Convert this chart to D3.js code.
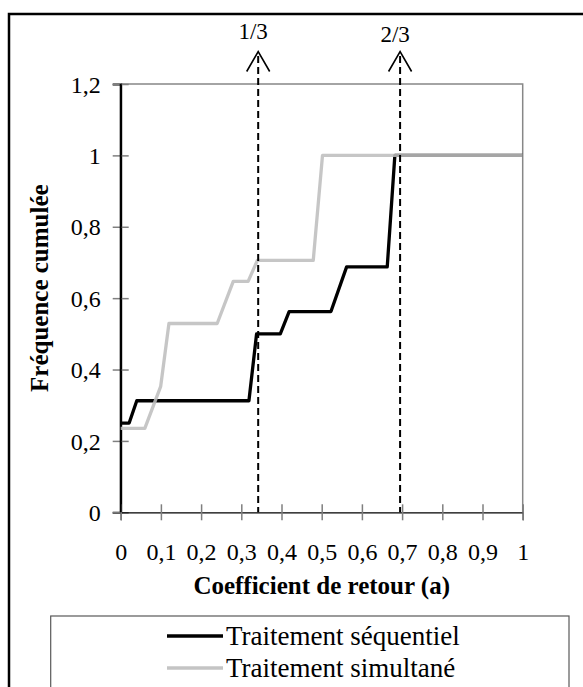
<!DOCTYPE html>
<html><head><meta charset="utf-8">
<script src="https://cdn.jsdelivr.net/npm/d3@7"></script>
<style>
body{margin:0;background:#fff}
svg{display:block}
text{font-family:"Liberation Serif","Times New Roman",serif;fill:#000}
</style>
</head><body><svg id="c" width="583" height="687"></svg>
<script>
// ---- data ----
const seqX = [0, 0.021, 0.040, 0.319, 0.338, 0.397, 0.419, 0.523, 0.562, 0.663, 0.682, 1];
const seqY = [0.25, 0.25, 0.3125, 0.3125, 0.5, 0.5, 0.5625, 0.5625, 0.6875, 0.6875, 1, 1];
const simX = [0, 0.060, 0.0995, 0.120, 0.240, 0.280, 0.317, 0.340, 0.479, 0.502, 1];
const simY = [0.235, 0.235, 0.353, 0.529, 0.529, 0.647, 0.647, 0.706, 0.706, 1, 1];
const xTickValues = [0, 0.1, 0.2, 0.3, 0.4, 0.5, 0.6, 0.7, 0.8, 0.9, 1];
const xTickLabels = ["0", "0,1", "0,2", "0,3", "0,4", "0,5", "0,6", "0,7", "0,8", "0,9", "1"];
const yTickValues = [0, 0.2, 0.4, 0.6, 0.8, 1, 1.2];
const yTickLabels = ["0", "0,2", "0,4", "0,6", "0,8", "1", "1,2"];
const markerX = [0.342, 0.695];
const markerLabels = ["1/3", "2/3"];
const seriesNames = ["Traitement séquentiel", "Traitement simultané"];
const xTitle = "Coefficient de retour (a)";
const yTitle = "Fréquence cumulée";

// ---- layout ----
const svg = d3.select("#c");
const L = 120.7, R = 522.7, T = 84, B = 512.3;
const x = d3.scaleLinear().domain([0, 1]).range([L, R]);
const y = d3.scaleLinear().domain([0, 1.2]).range([B, T]);
const serif = '"Liberation Serif","Times New Roman",serif';

// outer frame
svg.append("rect").attr("x", 9).attr("y", 14).attr("width", 620).attr("height", 720)
  .attr("fill", "none").attr("stroke", "#000").attr("stroke-width", 2.5);

// plot border (top & right)
svg.append("path").attr("d", `M${L},${T}H${R}V${B}`)
  .attr("fill", "none").attr("stroke", "#878787").attr("stroke-width", 1.5);

// y axis
const yAxis = svg.append("g").attr("transform", `translate(${L},0)`)
  .call(d3.axisLeft(y).tickValues(yTickValues).tickSize(8)
    .tickFormat((d, i) => yTickLabels[i]));
yAxis.attr("font-family", serif);
yAxis.select(".domain").attr("stroke", "#000").attr("stroke-width", 2);
yAxis.selectAll(".tick line").attr("x1", 8).attr("x2", -8).attr("stroke", "#7f7f7f").attr("stroke-width", 1.5);
yAxis.selectAll(".tick text").attr("x", -20).attr("dy", "0.34em")
  .style("font-family", serif).style("font-size", "24px").attr("fill", "#000");

// x axis
const xAxis = svg.append("g").attr("transform", `translate(0,${B})`)
  .call(d3.axisBottom(x).tickValues(xTickValues).tickSize(8)
    .tickFormat((d, i) => xTickLabels[i]));
xAxis.attr("font-family", serif);
xAxis.select(".domain").attr("stroke", "#000").attr("stroke-width", 1.2);
xAxis.selectAll(".tick line").attr("y1", -8).attr("y2", 8).attr("stroke", "#7f7f7f").attr("stroke-width", 1.5);
xAxis.selectAll(".tick text").attr("y", 48).attr("dy", 0)
  .style("font-family", serif).style("font-size", "24px").attr("fill", "#000");

// redraw y-axis line on top
svg.append("line").attr("x1", L).attr("x2", L).attr("y1", T).attr("y2", B)
  .attr("stroke", "#000").attr("stroke-width", 2);

// series
const line = d3.line().x(d => x(d[0])).y(d => y(d[1]));
const seqData = seqX.map((v, i) => [v, seqY[i]]);
const simData = simX.map((v, i) => [v, simY[i]]);
svg.append("path").datum(seqData).attr("d", line)
  .attr("fill", "none").attr("stroke", "#000").attr("stroke-width", 3.3).attr("stroke-linejoin", "round");
svg.append("path").datum(simData).attr("d", line)
  .attr("fill", "none").attr("stroke", "#bdbdbd").attr("stroke-opacity", 0.87)
  .attr("stroke-width", 3.3).attr("stroke-linejoin", "round");

// dashed markers with arrows
markerX.forEach((m, i) => {
  const px = x(m);
  svg.append("line").attr("x1", px).attr("x2", px).attr("y1", 56).attr("y2", B)
    .attr("stroke", "#000").attr("stroke-width", 2).attr("stroke-dasharray", "7,4");
  svg.append("path").attr("d", `M${px - 11.5},${71.5}L${px},${51.5}L${px + 11.5},${71.5}`)
    .attr("fill", "none").attr("stroke", "#000").attr("stroke-width", 1.6);
  svg.append("text").attr("x", px - 5).attr("y", i === 0 ? 39 : 42)
    .attr("text-anchor", "middle").style("font-size", "23px").text(markerLabels[i]);
});

// axis titles
svg.append("text").attr("x", (L + R) / 2).attr("y", 594).attr("text-anchor", "middle")
  .style("font-size", "25px").style("font-weight", "bold").text(xTitle);
svg.append("text").attr("transform", `translate(48,${(T + B) / 2 - 10}) rotate(-90)`)
  .attr("text-anchor", "middle").style("font-size", "25px").style("font-weight", "bold").text(yTitle);

// legend
svg.append("rect").attr("x", 50.7).attr("y", 616).attr("width", 518.3).attr("height", 120)
  .attr("fill", "#fff").attr("stroke", "#595959").attr("stroke-width", 1.2);
const legColors = ["#000", "#c4c4c4"];
seriesNames.forEach((n, i) => {
  const ly = 636 + i * 32;
  svg.append("line").attr("x1", 167).attr("x2", 223).attr("y1", ly).attr("y2", ly)
    .attr("stroke", legColors[i]).attr("stroke-width", 3.3);
  svg.append("text").attr("x", 226).attr("y", ly).attr("dy", "0.34em")
    .style("font-size", "27px").text(n);
});
</script>
</body></html>
